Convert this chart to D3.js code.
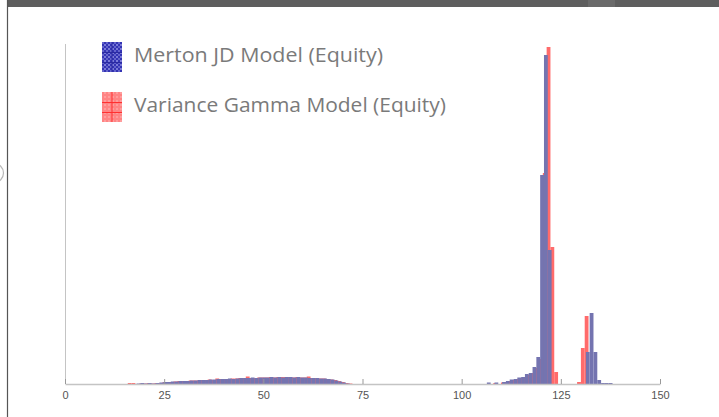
<!DOCTYPE html>
<html>
<head>
<meta charset="utf-8">
<script src="https://cdn.jsdelivr.net/npm/d3@7"></script>
<style>
  html, body { margin: 0; padding: 0; background: #fff; overflow: hidden; width: 719px; height: 417px; }
  svg { display: block; position: absolute; left: 0; top: 0; }
</style>
</head>
<body>
<script>
// ---- data ----
const seriesNames = ["Merton JD Model (Equity)", "Variance Gamma Model (Equity)"];
const xTicks = [0, 25, 50, 75, 100, 125, 150];
const binWidth = 0.96;

const mertonLowStart = 15.15;
const mertonLow = [0,0,0,0.5,1,0.5,1,0.5,1,1.5,2,2,2.5,2.5,3,3,3,3.5,3.5,4,4,4,4.5,4.5,5,5,5,5.5,5,5.5,
  6,6,6,6.5,6,6.5,6.5,6.5,7,6.5,7,6.5,7,7,6.5,7,6.5,6.5,6,6,6,5.5,5.5,5,4.5,3.5,2.5,1.5,0.5,0];
const mertonHighStart = 105.39;
const mertonHigh = [0,1.5,0,1.5,0,2,3,4.5,5,6.5,7,10,11,17,27,209,329,134,0,0,0,0,0,0,0,0,0,32,71,32,4,1,1,1];

const vgLowStart = 15.82;
const vgLow = [1,1,0,0.5,0.5,1,0.5,1,1,1.5,2,2,2.5,3,3,3,3.5,3.5,3.5,4,4,4.5,4,5.5,5,5,5,5.5,5.5,6,
  6,7.5,6,6,6.5,6.5,6.5,7,6.5,7,7,7,7,6.5,7,6.5,6.5,7.5,6,6,5.5,5.5,5,4.5,4,3,2,1,0.5,0];
const vgHighStart = 106.06;
const vgHigh = [0,0,1,0,1.5,2,3,4,5,6,7,9,11,16,25,211,337,137,12,0,0,0,0,0,2,36,68,0];

function toBins(start, vals) {
  return vals.map((v, i) => ({ x0: start + i * binWidth, x1: start + (i + 1) * binWidth, v }));
}
const mertonBins = toBins(mertonLowStart, mertonLow).concat(toBins(mertonHighStart, mertonHigh));
const vgBins = toBins(vgLowStart, vgLow).concat(toBins(vgHighStart, vgHigh));

// ---- chart ----
const W = 719, H = 417;
const svg = d3.select("body").append("svg").attr("width", W).attr("height", H);

// window frame
svg.append("rect").attr("x", 7).attr("y", 0).attr("width", W - 7).attr("height", 7).attr("fill", "#5e5e5e");
svg.append("rect").attr("x", 588).attr("y", 0).attr("width", 27).attr("height", 7).attr("fill", "#6a6a6a");
svg.append("line").attr("x1", 7.5).attr("x2", 7.5).attr("y1", 0).attr("y2", H).attr("stroke", "#555").attr("stroke-width", 1.2);
svg.append("circle").attr("cx", -6).attr("cy", 173).attr("r", 9.5).attr("fill", "none").attr("stroke", "#b8b8b8").attr("stroke-width", 1.2);

const x = d3.scaleLinear().domain([0, 150]).range([65, 660]);
const y = d3.scaleLinear().domain([0, 340]).range([384, 44]);

// left axis line
svg.append("line").attr("x1", 65.5).attr("x2", 65.5).attr("y1", 44).attr("y2", 384)
  .attr("stroke", "#c4c4c4").attr("stroke-width", 1);

const g = svg.append("g");
g.selectAll("rect.vg").data(vgBins.filter(d => d.v > 0)).join("rect")
  .attr("class", "vg")
  .attr("x", d => x(d.x0)).attr("width", d => x(d.x1) - x(d.x0))
  .attr("y", d => y(d.v)).attr("height", d => y(0) - y(d.v))
  .attr("fill", "#ff6b6b");
g.selectAll("rect.mj").data(mertonBins.filter(d => d.v > 0)).join("rect")
  .attr("class", "mj")
  .attr("x", d => x(d.x0)).attr("width", d => x(d.x1) - x(d.x0))
  .attr("y", d => y(d.v)).attr("height", d => y(0) - y(d.v))
  .attr("fill", "#7474b0");

// x axis
const xAxis = d3.axisBottom(x).tickValues(xTicks).tickSize(-5).tickPadding(9).tickSizeOuter(0);
const ax = svg.append("g").attr("transform", "translate(0,384)").call(xAxis);
ax.select(".domain").attr("stroke", "#c4c4c4").attr("stroke-width", 1.6);
ax.selectAll(".tick line").attr("stroke", "#999");
ax.selectAll(".tick text").attr("fill", "#555").attr("font-family", "Liberation Sans, Arial, sans-serif")
  .attr("font-size", 11).attr("dy", "0.5em");

// legend patterns
const defs = svg.append("defs");
const pb = defs.append("pattern").attr("id", "pblue").attr("patternUnits", "userSpaceOnUse")
  .attr("width", 4).attr("height", 4);
pb.append("rect").attr("width", 4).attr("height", 4).attr("fill", "#3434b4");
pb.append("rect").attr("x", 0).attr("y", 0).attr("width", 2).attr("height", 2).attr("fill", "#7a7ad8");
pb.append("rect").attr("x", 2).attr("y", 2).attr("width", 2).attr("height", 2).attr("fill", "#6464cc");
const pr = defs.append("pattern").attr("id", "pred").attr("patternUnits", "userSpaceOnUse")
  .attr("width", 4).attr("height", 4);
pr.append("rect").attr("width", 4).attr("height", 4).attr("fill", "#ff8484");
pr.append("rect").attr("x", 0).attr("y", 0).attr("width", 2).attr("height", 2).attr("fill", "#ff9c9c");

const legend = [
  { name: seriesNames[0], fill: "url(#pblue)", grid: "#2a2aa0", top: 42, len: 249 },
  { name: seriesNames[1], fill: "url(#pred)", grid: "#ff3030", top: 92, len: 312 }
];
const lg = svg.selectAll("g.leg").data(legend).join("g").attr("class", "leg");
lg.append("rect").attr("x", 102).attr("y", d => d.top).attr("width", 20).attr("height", 30).attr("fill", d => d.fill);
lg.append("line").attr("x1", 112).attr("x2", 112).attr("y1", d => d.top).attr("y2", d => d.top + 30)
  .attr("stroke", d => d.grid).attr("stroke-width", 1);
[10, 20].forEach(o => {
  lg.append("line").attr("x1", 102).attr("x2", 122).attr("y1", d => d.top + o + 0.5).attr("y2", d => d.top + o + 0.5)
    .attr("stroke", d => d.grid).attr("stroke-width", 1);
});
lg.append("text").attr("x", 134).attr("y", d => d.top + 20).text(d => d.name)
  .attr("font-family", "Open Sans, sans-serif").attr("font-size", 20.5).attr("fill", "#7a7a7a")
  .attr("textLength", d => d.len).attr("lengthAdjust", "spacingAndGlyphs");
</script>
</body>
</html>
